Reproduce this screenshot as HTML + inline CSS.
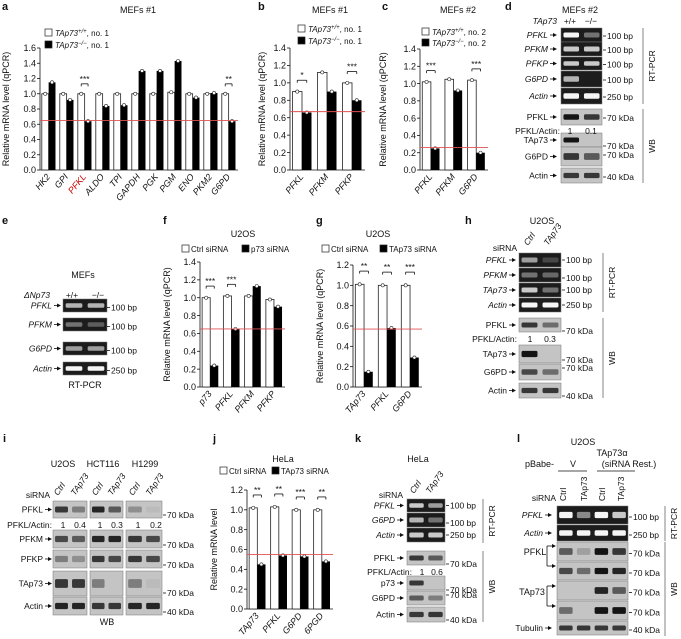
<!DOCTYPE html>
<html><head><meta charset="utf-8"><style>
html,body{margin:0;padding:0;background:#fff;}
svg{display:block;font-family:"Liberation Sans",sans-serif;}
</style></head><body>
<svg id="fig" width="681" height="639" viewBox="0 0 681 639"></svg>
<script>
// ---------- chart data ----------
const aCats=['HK2','GPI','PFKL','ALDO','TPI','GAPDH','PGK','PGM','ENO','PKM2','G6PD'];
const aCtrl=[1.0,1.0,1.0,1.0,1.0,1.0,1.0,1.02,1.0,1.0,1.0];
const aKo=[1.15,0.92,0.64,0.84,0.85,1.30,1.30,1.43,0.95,1.01,0.64];
const aStars=['','','***','','','','','','','','**'];
const aTicks=['0.0','0.2','0.4','0.6','0.8','1.0','1.2','1.4','1.6'];
const bCats=['PFKL','PFKM','PFKP'];
const bCtrl=[0.90,1.12,1.0];
const bKo=[0.66,0.90,0.80];
const bStars=['*','','***'];
const bTicks=['0.0','0.2','0.4','0.6','0.8','1.0','1.2','1.4'];
const cCats=['PFKL','PFKM','G6PD'];
const cCtrl=[1.02,1.05,1.04];
const cKo=[0.25,0.92,0.20];
const cStars=['***','','***'];
const cTicks=['0.0','0.2','0.4','0.6','0.8','1.0','1.2','1.4'];
const fCats=['p73','PFKL','PFKM','PFKP'];
const fCtrl=[1.0,1.02,1.02,0.98];
const fKo=[0.24,0.65,1.13,0.90];
const fStars=['***','***','',''];
const fTicks=['0.0','0.2','0.4','0.6','0.8','1.0','1.2','1.4'];
const gCats=['TAp73','PFKL','G6PD'];
const gCtrl=[1.01,1.0,1.0];
const gKo=[0.15,0.58,0.29];
const gStars=['**','**','***'];
const gTicks=['0.0','0.2','0.4','0.6','0.8','1.0','1.2'];
const jCats=['TAp73','PFKL','G6PD','6PGD'];
const jCtrl=[1.02,1.03,1.0,1.0];
const jKo=[0.45,0.54,0.53,0.48];
const jStars=['**','**','***','**'];
const jTicks=['0.0','0.2','0.4','0.6','0.8','1.0','1.2'];

const NS='http://www.w3.org/2000/svg';
const svg=document.getElementById('fig');
function mk(tag,attrs,name,parent){
  const e=document.createElementNS(NS,tag);
  for(const k in attrs) e.setAttribute(k,attrs[k]);
  
  
  (parent||svg).appendChild(e);return e;
}
function T(x,y,s,o,name){
  o=o||{};
  const a={x:x,y:y,'font-size':o.fs||8.5,'text-anchor':o.a||'start',fill:o.fill||'#111'};
  if(o.it) a['font-style']='italic';
  if(o.b) a['font-weight']='bold';
  if(o.rot!==undefined) a.transform='rotate('+o.rot+' '+x+' '+y+')';
  const e=mk('text',a,name||'label');e.textContent=s;return e;
}
function L(x1,y1,x2,y2,name,c,w){return mk('line',{x1:x1,y1:y1,x2:x2,y2:y2,stroke:c||'#111','stroke-width':w||0.8},name||'line');}
function arrow(x1,x2,y){L(x1,y,x2-3,y,'arrow-line');mk('polygon',{points:(x2-4)+','+(y-2)+' '+x2+','+y+' '+(x2-4)+','+(y+2),fill:'#111'},'arrow-head');}

function chart(c){
  const g=mk('g',{},c.name);
  const max=parseFloat(c.ticks[c.ticks.length-1]);
  const ys=v=>c.y0-v/max*(c.y0-c.yTop);
  const n=c.cats.length, slot=(c.xEnd-c.ax)/n, bw=slot*0.38;
  L(c.ax,c.y0,c.ax,c.yTop,'y-axis');
  L(c.ax,c.y0,c.xEnd,c.y0,'x-axis');
  c.ticks.forEach(t=>{const v=parseFloat(t);L(c.ax-3,ys(v),c.ax,ys(v),'y-tick');T(c.ax-4,ys(v)+3.2,t,{a:'end',fs:9},'y-tick-label');});
  T(c.tx,(c.y0+c.yTop)/2,c.ytitle||'Relative mRNA level (qPCR)',{a:'middle',fs:9,rot:-90},'y-axis-title');
  c.cats.forEach((cat,i)=>{
    const x0=c.ax+slot*i+slot*0.1;
    mk('rect',{x:x0,y:ys(c.ctrl[i]),width:bw,height:c.y0-ys(c.ctrl[i]),fill:'#fff',stroke:'#222','stroke-width':0.8},'bar-ctrl-'+cat);
    mk('rect',{x:x0+bw,y:ys(c.ko[i]),width:bw,height:c.y0-ys(c.ko[i]),fill:'#000'},'bar-ko-'+cat);
    mk('circle',{cx:x0+bw/2,cy:ys(c.ctrl[i]),r:1.6,fill:'#fff',stroke:'#222','stroke-width':0.6},'dot');
    mk('circle',{cx:x0+bw*1.5,cy:ys(c.ko[i]),r:1.6,fill:'#fff',stroke:'#222','stroke-width':0.6},'dot');
    const lx=x0+bw+2, ly=c.y0+7;
    T(lx,ly,cat,{a:'end',fs:9,it:c.it!==false,rot:-50,fill:(c.redCat===cat?'#c00':'#111')},'x-label-'+cat);
    if(c.stars[i]){
      const top=ys(Math.max(c.ctrl[i],c.ko[i])+0.13);
      L(x0+bw/2,top,x0+bw*1.5,top,'sig-bracket');
      L(x0+bw/2,top,x0+bw/2,top+2.5,'sig-bracket');L(x0+bw*1.5,top,x0+bw*1.5,top+2.5,'sig-bracket');
      T(x0+bw,top-2,c.stars[i],{a:'middle',fs:8.5},'sig-stars');
    }
  });
  L(c.ax,ys(c.red),c.xEnd,ys(c.red),'red-reference-line','#e05050',0.9);
}
function legendBox(x,y,fill,name){mk('rect',{x:x,y:y,width:7,height:7,fill:fill,stroke:'#222','stroke-width':0.7},name);}
function legendG(x,y,s1,sup,s2){const t=T(x,y,'',{fs:8},'legend-text');
  const a=document.createElementNS(NS,'tspan');a.setAttribute('font-style','italic');a.textContent=s1;t.appendChild(a);
  const b=document.createElementNS(NS,'tspan');b.setAttribute('font-style','italic');b.setAttribute('font-size','6');b.setAttribute('dy','-3');b.textContent=sup;t.appendChild(b);
  const c=document.createElementNS(NS,'tspan');c.setAttribute('dy','3');c.textContent=s2;t.appendChild(c);}

// ---------- panel letters ----------
[['a',2,10],['b',258,10],['c',382,10],['d',505,10],['e',2,224],['f',163,224],['g',316,224],['h',465,224],['i',3,442],['j',213,442],['k',355,442],['l',517,442]].forEach(p=>T(p[1],p[2],p[0],{fs:11,b:true},'panel-letter-'+p[0]));

// ---------- charts ----------
T(138,13,'MEFs #1',{a:'middle',fs:9},'title-a');
legendBox(45,29,'#fff','legend-ctrl-a');legendG(55,36,'TAp73','+/+',', no. 1');
legendBox(45,41,'#000','legend-ko-a');legendG(55,48,'TAp73','−/−',', no. 1');
chart({name:'chart-a',ax:40,xEnd:238,y0:170,yTop:48,cats:aCats,ctrl:aCtrl,ko:aKo,stars:aStars,ticks:aTicks,red:0.65,tx:9,redCat:'PFKL'});

T(330,13,'MEFs #1',{a:'middle',fs:9},'title-b');
legendBox(298,25,'#fff','legend-ctrl-b');legendG(308,32,'TAp73','+/+',', no. 1');
legendBox(298,37,'#000','legend-ko-b');legendG(308,44,'TAp73','−/−',', no. 1');
chart({name:'chart-b',ax:290,xEnd:365,y0:170,yTop:48,cats:bCats,ctrl:bCtrl,ko:bKo,stars:bStars,ticks:bTicks,red:0.67,tx:265});

T(458,13,'MEFs #2',{a:'middle',fs:9},'title-c');
legendBox(422,28,'#fff','legend-ctrl-c');legendG(432,35,'TAp73','+/+',', no. 2');
legendBox(422,39,'#000','legend-ko-c');legendG(432,46,'TAp73','−/−',', no. 2');
chart({name:'chart-c',ax:420,xEnd:488,y0:170,yTop:49,cats:cCats,ctrl:cCtrl,ko:cKo,stars:cStars,ticks:cTicks,red:0.26,tx:386});

T(243,237,'U2OS',{a:'middle',fs:9},'title-f');
legendBox(182,245,'#fff','legend-ctrl-f');T(191,252,'Ctrl siRNA',{fs:8},'legend-text');
legendBox(242,245,'#000','legend-ko-f');T(251,252,'p73 siRNA',{fs:8},'legend-text');
chart({name:'chart-f',ax:200,xEnd:285,y0:387,yTop:262,cats:fCats,ctrl:fCtrl,ko:fKo,stars:fStars,ticks:fTicks,red:0.65,tx:170});

T(378,237,'U2OS',{a:'middle',fs:9},'title-g');
legendBox(322,245,'#fff','legend-ctrl-g');T(331,252,'Ctrl siRNA',{fs:8},'legend-text');
legendBox(380,245,'#000','legend-ko-g');T(389,252,'TAp73 siRNA',{fs:8},'legend-text');
chart({name:'chart-g',ax:353,xEnd:422,y0:387,yTop:265,cats:gCats,ctrl:gCtrl,ko:gKo,stars:gStars,ticks:gTicks,red:0.57,tx:323});

T(283,462,'HeLa',{a:'middle',fs:9},'title-j');
legendBox(220,467,'#fff','legend-ctrl-j');T(229,474,'Ctrl siRNA',{fs:8},'legend-text');
legendBox(272,467,'#000','legend-ko-j');T(281,474,'TAp73 siRNA',{fs:8},'legend-text');
chart({name:'chart-j',ax:247,xEnd:333,y0:609,yTop:490,cats:jCats,ctrl:jCtrl,ko:jKo,stars:jStars,ticks:jTicks,red:0.55,tx:217,ytitle:'Relative mRNA level'});

// ---------- gels ----------
function gel(x,y,w,h,dark,ints,name){
  mk('rect',{x:x,y:y,width:w,height:h,fill:dark?'#1c1c1c':'#c4c4c4',stroke:'#777','stroke-width':0.5},name);
  const n=ints.length,lw=w/n,bh=Math.max(3.6,h*0.35);
  ints.forEach((v,i)=>{ if(v<=0) return;
    const c=dark?'rgba(245,245,245,'+v+')':'rgba(20,20,20,'+v+')';
    mk('rect',{x:x+lw*i+lw*0.12,y:y+h/2-bh/2,width:lw*0.76,height:bh,rx:1.5,fill:c},'band');});
}
function rowLabel(xr,y,s,it){T(xr,y+3,s,{a:'end',fs:8.5,it:it},'row-label');arrow(xr+2,xr+9,y);}
function size(x,y,s){L(x,y,x+3,y,'size-tick');T(x+4,y+3,s,{fs:8.5},'size-label');}
function side(x,y1,y2,s){L(x,y1,x,y2,'bracket-line','#666');T(x+12,(y1+y2)/2,s,{a:'middle',fs:8.5,rot:-90},'method-label');}

// panel d
T(580,13,'MEFs #2',{a:'middle',fs:9},'title-d');
T(557,24,'TAp73',{a:'end',fs:8.5,it:true},'genotype-label');T(570,24,'+/+',{a:'middle',fs:8.5},'lane-label');T(591,24,'−/−',{a:'middle',fs:8.5},'lane-label');
[['PFKL',28,14,[1,0.4],true],['PFKM',42,14,[0.8,0.8],true],['PFKP',57,13,[0.8,0.8],true],['G6PD',71,16,[0.7,0],true],['Actin',88,16,[1,1],true]].forEach(r=>{gel(561,r[1],41,r[2],true,r[3],'gel-d-'+r[0]);rowLabel(548,r[1]+r[2]/2,r[0],true);size(603,r[1]+r[2]/2+1,r[0]==='Actin'?'250 bp':'100 bp');});
[['PFKL',109,16,[1,0.8]],['TAp73',133,14,[1,0]],['G6PD',147,19,[0.8,0.6]],['Actin',168,15,[0.8,0.8]]].forEach(r=>{gel(561,r[1],41,r[2],false,r[3],'blot-d-'+r[0]);rowLabel(548,r[1]+r[2]/2,r[0],false);});
size(603,118,'70 kDa');size(603,146,'70 kDa');size(603,155,'70 kDa');size(603,177,'40 kDa');
T(560,134,'PFKL/Actin:',{a:'end',fs:8.5},'ratio-label');T(570,134,'1',{a:'middle',fs:8.5},'ratio');T(591,134,'0.1',{a:'middle',fs:8.5},'ratio');
side(643,28,104,'RT-PCR');side(643,109,183,'WB');

// panel e
T(83,278,'MEFs',{a:'middle',fs:9},'title-e');
T(50,298,'ΔNp73',{a:'end',fs:8.5,it:true},'genotype-label');T(72,298,'+/+',{a:'middle',fs:8.5},'lane-label');T(98,298,'−/−',{a:'middle',fs:8.5},'lane-label');
[['PFKL',299,13,[0.7,0.7]],['PFKM',318,13,[0.4,0.3]],['G6PD',342,13,[0.6,0.6]],['Actin',362,13,[1,1]]].forEach(r=>{gel(63,r[1],44,r[2],true,r[3],'gel-e-'+r[0]);rowLabel(52,r[1]+r[2]/2,r[0],true);size(107,r[1]+r[2]/2+2,r[0]==='Actin'?'250 bp':'100 bp');});
T(85,388,'RT-PCR',{a:'middle',fs:9},'method-label');

// panel h
T(542,224,'U2OS',{a:'middle',fs:9},'title-h');
T(517,251,'siRNA',{a:'end',fs:8.5},'sirna-label');T(528,246,'Ctrl',{fs:8.5,it:true,rot:-55},'lane-label');T(548,246,'TAp73',{fs:8.5,it:true,rot:-55},'lane-label');
[['PFKL',253,14,[0.6,0.2]],['PFKM',268,14,[0.4,0.35]],['TAp73',283,14,[0.8,0.4]],['Actin',298,14,[1,1]]].forEach(r=>{gel(519,r[1],42,r[2],true,r[3],'gel-h-'+r[0]);rowLabel(507,r[1]+r[2]/2,r[0],true);size(562,r[1]+r[2]/2+(r[0]==='PFKM'?3:0),r[0]==='Actin'?'250 bp':'100 bp');});
[['PFKL',318,14,[0.8,0.5]],['TAp73',345,18,[1,0]],['G6PD',364,16,[0.7,0.5]],['Actin',383,15,[0.8,0.8]]].forEach(r=>{gel(519,r[1],42,r[2],false,r[3],'blot-h-'+r[0]);rowLabel(507,r[1]+r[2]/2,r[0],false);});
size(562,331,'70 kDa');size(562,360,'70 kDa');size(562,368,'70 kDa');size(562,396,'40 kDa');
T(517,342,'PFKL/Actin:',{a:'end',fs:8.5},'ratio-label');T(530,342,'1',{a:'middle',fs:8.5},'ratio');T(550,342,'0.3',{a:'middle',fs:8.5},'ratio');
side(603,253,312,'RT-PCR');side(603,318,398,'WB');

// panel i
T(63,467,'U2OS',{a:'middle',fs:9},'cell-line-label');T(103,467,'HCT116',{a:'middle',fs:9},'cell-line-label');T(145,467,'H1299',{a:'middle',fs:9},'cell-line-label');
T(50,498,'siRNA',{a:'end',fs:8.5},'sirna-label');
[[58,'Ctrl'],[75,'TAp73'],[96,'Ctrl'],[112,'TAp73'],[133,'Ctrl'],[150,'TAp73']].forEach(l=>T(l[0],496,l[1],{fs:8.5,it:true,rot:-55},'lane-label'));
const iCols=[[53,34],[90,33],[126,36]];
[['PFKL',501,17,[[0.8,0.4],[0.9,0.6],[0.3,0.05]]],['PFKM',530,18,[[0.7,0.6],[0.9,0.9],[0.8,0.7]]],['PFKP',550,18,[[0.4,0.3],[0.8,0.7],[0.8,0.7]]],['TAp73',571,25,[[0.8,0.8],[0.4,0],[0.4,0.05]]],['Actin',597,18,[[0.9,0.9],[0.8,0.8],[0.9,0.9]]]].forEach(r=>{
  iCols.forEach((c,k)=>gel(c[0],r[1],c[1],r[2],false,r[3][k],'blot-i-'+r[0]));
  rowLabel(43,r[1]+r[2]/2,r[0],false);size(163,r[1]+r[2]-3,r[0]==='Actin'?'40 kDa':'70 kDa');});
T(52,528,'PFKL/Actin:',{a:'end',fs:8.5},'ratio-label');
[[63,'1'],[80,'0.4'],[100,'1'],[117,'0.3'],[138,'1'],[156,'0.2']].forEach(r=>T(r[0],528,r[1],{a:'middle',fs:8.5},'ratio'));
T(107,625,'WB',{a:'middle',fs:9},'method-label');

// panel k
T(418,462,'HeLa',{a:'middle',fs:9},'title-k');
T(403,498,'siRNA',{a:'end',fs:8.5},'sirna-label');T(414,494,'Ctrl',{fs:8.5,it:true,rot:-55},'lane-label');T(430,494,'TAp73',{fs:8.5,it:true,rot:-55},'lane-label');
[['PFKL',499,13,[0.8,0.6]],['G6PD',513,14,[0.7,0.4]],['Actin',528,14,[0.8,0.8]]].forEach(r=>{gel(407,r[1],38,r[2],true,r[3],'gel-k-'+r[0]);rowLabel(395,r[1]+r[2]/2,r[0],true);size(446,r[1]+r[2]/2+(r[0]==='G6PD'?3:0),r[0]==='Actin'?'250 bp':'100 bp');});
[['PFKL',551,14,[0.8,0.6]],['p73',576,14,[0.8,0]],['G6PD',591,14,[0.6,0.4]],['Actin',607,15,[0.8,0.8]]].forEach(r=>{gel(407,r[1],38,r[2],false,r[3],'blot-k-'+r[0]);rowLabel(395,r[1]+r[2]/2,r[0],false);});
size(446,564,'70 kDa');size(446,590,'70 kDa');size(446,595,'70 kDa');size(446,620,'40 kDa');
T(412,575,'PFKL/Actin:',{a:'end',fs:8.5},'ratio-label');T(422,575,'1',{a:'middle',fs:8.5},'ratio');T(437,575,'0.6',{a:'middle',fs:8.5},'ratio');
side(483,499,543,'RT-PCR');side(483,551,622,'WB');

// panel l
T(583,445,'U2OS',{a:'middle',fs:9},'title-l');
T(612,456,'TAp73α',{a:'middle',fs:9},'construct-label');T(629,467,'(siRNA Rest.)',{a:'middle',fs:9},'construct-label');
T(525,467,'pBabe-',{fs:9},'vector-label');T(573,467,'V',{a:'middle',fs:9},'construct-label');
L(558,471,587,471,'group-line');L(597,471,635,471,'group-line');
T(556,501,'siRNA',{a:'end',fs:8.5},'sirna-label');
[[566,'Ctrl'],[587,'TAp73'],[605,'Ctrl'],[624,'TAp73']].forEach(l=>T(l[0],501,l[1],{fs:8.5,rot:-90},'lane-label'));
gel(557,506,71,18,true,[1,0.5,1,0.8],'gel-l-PFKL');rowLabel(543,515,'PFKL',true);size(629,517,'100 bp');
gel(557,525,71,16,true,[1,1,1,1],'gel-l-Actin');rowLabel(543,533,'Actin',true);size(629,535,'250 bp');
[[542,19,[0.6,0.2,1,0.8]],[562,18,[0.7,0.5,1,0.9]],[581,19,[0,0,0.9,0.6]],[601,19,[0.5,0,1,1]],[621,14,[0.8,0.8,0.8,0.8]]].forEach((r,k)=>{gel(557,r[0],71,r[1],false,r[2],'blot-l-'+k);size(629,r[0]+r[1]/2+2,k===4?'40 kDa':'70 kDa');});
T(535,555,'PFKL',{a:'middle',fs:9},'row-label');L(547,546,547,566,'bracket-line');arrow(547,556,546);arrow(547,556,566);
T(532,595,'TAp73',{a:'middle',fs:9},'row-label');L(547,586,547,606,'bracket-line');arrow(547,556,586);arrow(547,556,606);
rowLabel(543,628,'Tubulin',false);
side(665,506,541,'RT-PCR');side(665,542,636,'WB');
</script>
</body></html>
